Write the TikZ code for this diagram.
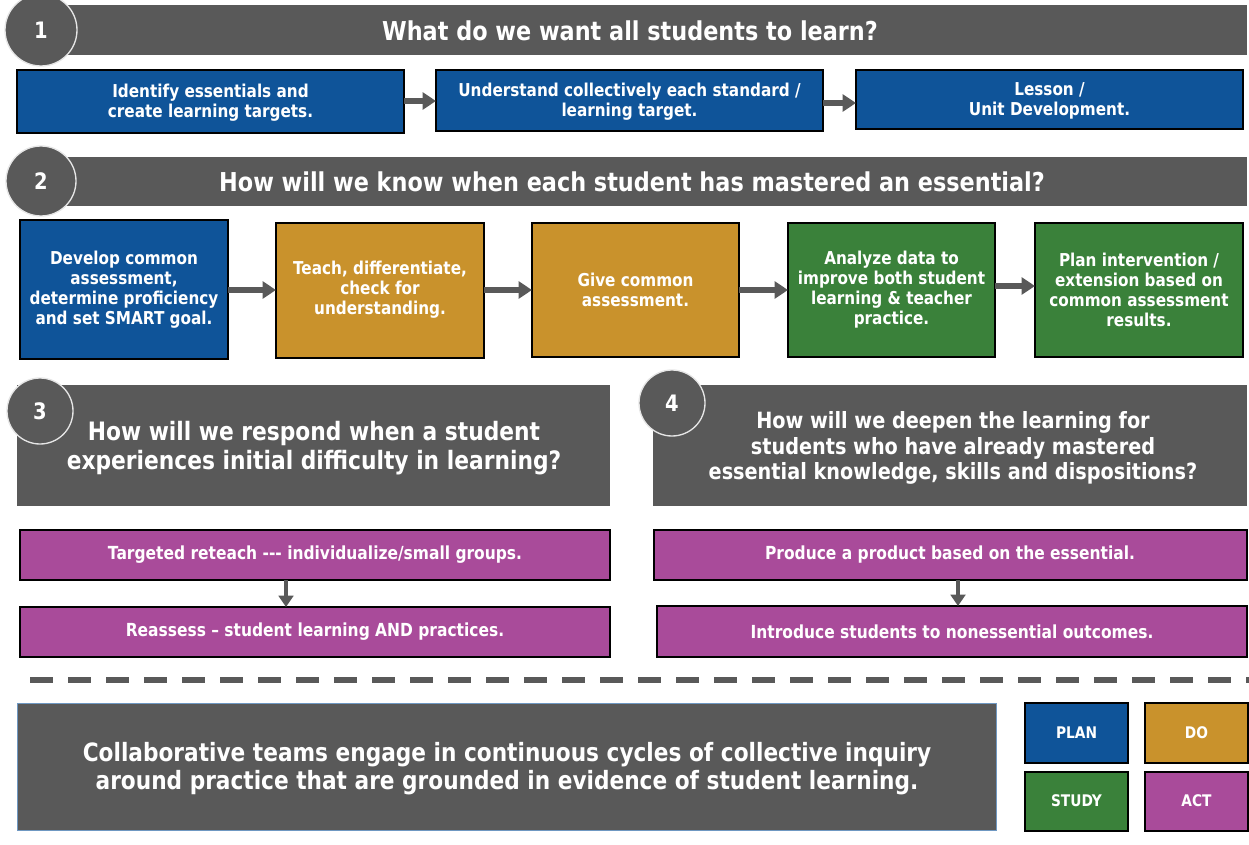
\documentclass[tikz,border=0pt]{standalone}
\usepackage{fontspec}
\setmainfont{DejaVu Sans}[FakeStretch=0.86]
\usetikzlibrary{arrows.meta}
\definecolor{pblue}{HTML}{0F5499}
\definecolor{pgold}{HTML}{C9922C}
\definecolor{pgreen}{HTML}{3A813A}
\definecolor{ppurple}{HTML}{A94B9A}
\definecolor{pgray}{HTML}{595959}
\definecolor{pring}{HTML}{E6E6E6}
\tikzset{
  x=0.75pt, y=-0.75pt,
  banner/.style={fill=pgray, draw=none},
  numcircle/.style={circle, fill=pgray, draw=pring, line width=1pt, inner sep=0pt, text=white, font=\bfseries\fontsize{17}{17}\selectfont},
  colbox/.style={draw=black, line width=0.9pt, fill=#1},
  boxtext/.style={text=white, align=center, font=\bfseries\fontsize{13.3}{15}\selectfont},
  purtext/.style={text=white, align=center, font=\bfseries\fontsize{13.5}{16}\selectfont},
  legtext/.style={text=white, align=center, font=\bfseries\fontsize{12}{14}\selectfont},
  flow/.style={draw=pgray, line width=3.8pt, -{Triangle[length=10pt,width=12.5pt]}},
  downflow/.style={draw=pgray, line width=3.2pt, -{Triangle[length=8.5pt,width=11pt]}},
}
\begin{document}
\begin{tikzpicture}
\useasboundingbox (0,0) rectangle (1249,845);
% ---------- section 1 ----------
\fill[banner] (40,5) rectangle (1247,55);
\node[numcircle, minimum size=72*0.75pt] (c1) at (41,30) {1};
\node[text=white, font=\bfseries\fontsize{19.5}{22}\selectfont] (t1) at (630,31) {What do we want all students to learn?};
\draw[colbox=pblue] (17,70) rectangle (404,133);
\node[boxtext] (b11) at (210.5,103) {Identify essentials and\\create learning targets.};
\draw[colbox=pblue] (436,70) rectangle (823,131);
\node[boxtext] (b12) at (629.5,102) {Understand collectively each standard /\\learning target.};
\draw[colbox=pblue] (856,70) rectangle (1243,129);
\node[boxtext] (b13) at (1049.5,101) {Lesson /\\Unit Development.};
\coordinate (b11e) at (404,101);
\coordinate (b12w) at (436,101);
\coordinate (b12e) at (823,103);
\coordinate (b13w) at (856,103);
\draw[flow] (b11e) -- (b12w);
\draw[flow] (b12e) -- (b13w);
% ---------- section 2 ----------
\fill[banner] (40,157) rectangle (1247,206);
\node[numcircle, minimum size=70*0.75pt] (c2) at (41,181) {2};
\node[text=white, font=\bfseries\fontsize{19.5}{22}\selectfont] (t2) at (632,182) {How will we know when each student has mastered an essential?};
\draw[colbox=pblue] (20,220) rectangle (228,359);
\node[boxtext] (b21) at (124,290) {Develop common\\assessment,\\determine proficiency\\and set SMART goal.};
\draw[colbox=pgold] (276,223) rectangle (484,358);
\node[boxtext] (b22) at (380,290) {Teach, differentiate,\\check for\\understanding.};
\draw[colbox=pgold] (532,223) rectangle (739,357);
\node[boxtext] (b23) at (635.5,290) {Give common\\assessment.};
\draw[colbox=pgreen] (788,223) rectangle (995,357);
\node[boxtext] (b24) at (891.5,290) {Analyze data to\\improve both student\\learning \& teacher\\practice.};
\draw[colbox=pgreen] (1035,223) rectangle (1243,357);
\node[boxtext] (b25) at (1139,290) {Plan intervention /\\extension based on\\common assessment\\results.};
\coordinate (a1s) at (228,290); \coordinate (a1e) at (276,290);
\coordinate (a2s) at (484,290); \coordinate (a2e) at (532,290);
\coordinate (a3s) at (739,290); \coordinate (a3e) at (788,290);
\coordinate (a4s) at (995,286); \coordinate (a4e) at (1035,286);
\draw[flow] (a1s) -- (a1e);
\draw[flow] (a2s) -- (a2e);
\draw[flow] (a3s) -- (a3e);
\draw[flow] (a4s) -- (a4e);
% ---------- section 3 ----------
\fill[banner] (17,385) rectangle (610,506);
\node[numcircle, minimum size=66*0.75pt] (c3) at (40,411) {3};
\node[text=white, align=center, font=\bfseries\fontsize{19}{22}\selectfont] (t3) at (314,448) {How will we respond when a student\\experiences initial difficulty in learning?};
\draw[colbox=ppurple] (20,530) rectangle (610,580);
\node[purtext] (p31) at (315,555) {Targeted reteach -{}-{}- individualize/small groups.};
\draw[colbox=ppurple] (20,607) rectangle (610,657);
\node[purtext] (p32) at (315,632) {Reassess -- student learning AND practices.};
\coordinate (d3s) at (286,580); \coordinate (d3e) at (286,607);
\draw[downflow] (d3s) -- (d3e);
% ---------- section 4 ----------
\fill[banner] (653,385) rectangle (1247,506);
\node[numcircle, minimum size=66*0.75pt] (c4) at (672,403) {4};
\node[text=white, align=center, font=\bfseries\fontsize{16.8}{19}\selectfont] (t4) at (953,448) {How will we deepen the learning for\\students who have already mastered\\essential knowledge, skills and dispositions?};
\draw[colbox=ppurple] (654,530) rectangle (1247,580);
\node[purtext] (p41) at (950,555) {Produce a product based on the essential.};
\draw[colbox=ppurple] (657,606) rectangle (1247,657);
\node[purtext] (p42) at (952,632) {Introduce students to nonessential outcomes.};
\coordinate (d4s) at (958,580); \coordinate (d4e) at (958,606);
\draw[downflow] (d4s) -- (d4e);
% ---------- dashed separator ----------
\coordinate (dl) at (30,680); \coordinate (dr) at (1249,680);
\draw[pgray, line width=3.8pt, dash pattern=on 17pt off 11.5pt] (dl) -- (dr);
% ---------- bottom ----------
\draw[fill=pgray, draw=pblue!60, line width=0.6pt] (17,703) rectangle (996,830);
\node[text=white, align=center, font=\bfseries\fontsize{18.9}{21}\selectfont] (bt) at (507,769) {Collaborative teams engage in continuous cycles of collective inquiry\\around practice that are grounded in evidence of student learning.};
\draw[colbox=pblue] (1025,703) rectangle (1128,763);
\node[legtext] (lplan) at (1076.5,733) {PLAN};
\draw[colbox=pgold] (1145,703) rectangle (1248,763);
\node[legtext] (ldo) at (1196.5,733) {DO};
\draw[colbox=pgreen] (1025,772) rectangle (1128,831);
\node[legtext] (lstudy) at (1076.5,801) {STUDY};
\draw[colbox=ppurple] (1145,772) rectangle (1248,831);
\node[legtext] (lact) at (1196.5,801) {ACT};
\end{tikzpicture}
\end{document}
